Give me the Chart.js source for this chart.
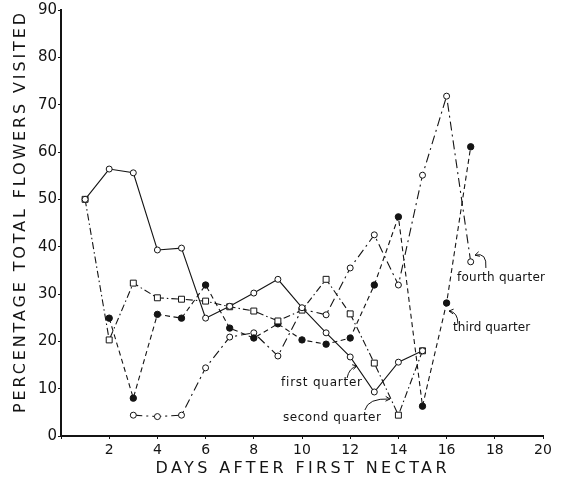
<!DOCTYPE html>
<html>
<head>
<meta charset="utf-8">
<script src="https://cdn.jsdelivr.net/npm/chart.js@4.4.1/dist/chart.umd.min.js"></script>
<style>
  html, body { margin: 0; padding: 0; background: #fff; }
  #wrap { width: 565px; height: 477px; }
</style>
</head>
<body>
<div id="wrap"><canvas id="c" width="565" height="477"></canvas></div>
<script>
// ---- data ----
const firstDays  = [1, 2, 3, 4, 5, 6, 7, 8, 9, 10, 11, 12, 13, 14, 15];
const firstVals  = [50, 56.4, 55.6, 39.3, 39.7, 24.9, 27.4, 30.2, 33.1, 27.1, 21.8, 16.7, 9.3, 15.6, 18];

const secondDays = [1, 2, 3, 4, 5, 6, 7, 8, 9, 10, 11, 12, 13, 14, 15];
const secondVals = [50, 20.3, 32.3, 29.2, 28.9, 28.5, 27.3, 26.4, 24.3, 26.6, 33.1, 25.8, 15.4, 4.4, 18];

const thirdDays  = [2, 3, 4, 5, 6, 7, 8, 9, 10, 11, 12, 13, 14, 15, 16, 17];
const thirdVals  = [24.9, 8, 25.7, 24.9, 31.9, 22.8, 20.7, 23.7, 20.3, 19.4, 20.7, 31.9, 46.3, 6.3, 28.1, 61.1];

const fourthDays = [3, 4, 5, 6, 7, 8, 9, 10, 11, 12, 13, 14, 15, 16, 17];
const fourthVals = [4.4, 4.1, 4.4, 14.4, 20.9, 21.8, 16.9, 26.8, 25.6, 35.5, 42.5, 31.9, 55.1, 71.8, 36.8];

const xTickValues = [2, 4, 6, 8, 10, 12, 14, 16, 18, 20];
const yTickValues = [0, 10, 20, 30, 40, 50, 60, 70, 80, 90];

const seriesNames = ['first quarter', 'second quarter', 'third quarter', 'fourth quarter'];
const xTitle = 'DAYS AFTER FIRST NECTAR';
const yTitle = 'PERCENTAGE TOTAL FLOWERS VISITED';

// ---- helpers ----
const pts = (xs, ys) => xs.map((x, i) => ({ x: x, y: ys[i] }));
const INK = '#141414';

function drawSpaced(ctx, text, cx, cy, target, font, rot) {
  ctx.save();
  ctx.font = font;
  ctx.letterSpacing = '0px';
  const w0 = ctx.measureText(text).width;
  const sp = Math.max(0, (target - w0) / (text.length - 1));
  ctx.letterSpacing = sp + 'px';
  ctx.translate(cx, cy);
  if (rot) ctx.rotate(rot);
  ctx.textAlign = 'left';
  ctx.textBaseline = 'middle';
  ctx.fillText(text, -target / 2, 0);
  ctx.restore();
}

function drawLabelLeft(ctx, text, x, y, target, font) {
  drawSpaced(ctx, text, x + target / 2, y, target, font, 0);
}

function curvedArrow(ctx, p0, p1, p2) {
  ctx.beginPath();
  ctx.moveTo(p0[0], p0[1]);
  ctx.quadraticCurveTo(p1[0], p1[1], p2[0], p2[1]);
  ctx.stroke();
  const ang = Math.atan2(p2[1] - p1[1], p2[0] - p1[0]);
  const L = 5, A = 0.5;
  ctx.beginPath();
  ctx.moveTo(p2[0] - L * Math.cos(ang - A), p2[1] - L * Math.sin(ang - A));
  ctx.lineTo(p2[0], p2[1]);
  ctx.lineTo(p2[0] - L * Math.cos(ang + A), p2[1] - L * Math.sin(ang + A));
  ctx.stroke();
}

// annotation anchors in data coordinates: label left/centre, arrow start/control/end
const annotations = [
  { text: seriesNames[3], at: [16.43, 33.4], w: 88, arrow: [[17.63, 35.5], [17.68, 38.9], [17.18, 38.2]] },
  { text: seriesNames[2], at: [16.27, 22.8], w: 77, arrow: [[16.47, 23.7], [16.47, 26.2], [16.10, 26.4]] },
  { text: seriesNames[0], at: [9.13, 11.2],  w: 81, arrow: [[11.87, 12.25], [11.95, 14.37], [12.28, 14.79]] },
  { text: seriesNames[1], at: [9.21, 3.8],   w: 98, arrow: [[12.61, 5.49], [12.74, 8.03], [13.65, 7.82]] }
];

const annotPlugin = {
  id: 'annot',
  afterDraw(chart) {
    const ctx = chart.ctx, xs = chart.scales.x, ys = chart.scales.y, a = chart.chartArea;
    ctx.save();
    ctx.fillStyle = INK;
    ctx.strokeStyle = INK;
    ctx.lineWidth = 1;
    // axis titles
    drawSpaced(ctx, yTitle, 21, 213, 400, '16px "DejaVu Sans"', -Math.PI / 2);
    drawSpaced(ctx, xTitle, 301, 469, 291, '16px "DejaVu Sans"', 0);
    // series labels with arrows
    const P = (d) => [xs.getPixelForValue(d[0]), ys.getPixelForValue(d[1])];
    annotations.forEach(an => {
      const p = P(an.at);
      drawLabelLeft(ctx, an.text, p[0], p[1], an.w, '12px "DejaVu Sans"');
      const q = an.arrow.map(P);
      curvedArrow(ctx, q[0], q[1], q[2]);
    });
    ctx.restore();
  }
};

const common = {
  borderColor: INK,
  borderWidth: 1.1,
  pointBorderColor: INK,
  pointBorderWidth: 1,
  tension: 0,
  fill: false
};

new Chart(document.getElementById('c'), {
  type: 'line',
  data: {
    datasets: [
      Object.assign({}, common, {
        label: seriesNames[0], data: pts(firstDays, firstVals),
        borderDash: [], pointStyle: 'circle', pointRadius: 3, pointBackgroundColor: '#fff'
      }),
      Object.assign({}, common, {
        label: seriesNames[1], data: pts(secondDays, secondVals),
        borderDash: [7, 3, 1.5, 3], pointStyle: 'rect', pointRadius: 4.2, pointBackgroundColor: '#fff'
      }),
      Object.assign({}, common, {
        label: seriesNames[2], data: pts(thirdDays, thirdVals),
        borderDash: [5, 3.5], pointStyle: 'circle', pointRadius: 3.2, pointBackgroundColor: INK
      }),
      Object.assign({}, common, {
        label: seriesNames[3], data: pts(fourthDays, fourthVals),
        borderDash: [9, 4, 2, 4], pointStyle: 'circle', pointRadius: 3, pointBackgroundColor: '#fff'
      })
    ]
  },
  options: {
    responsive: false,
    animation: false,
    layout: { padding: { top: 10, right: 22, bottom: 0, left: 0 } },
    plugins: { legend: { display: false }, tooltip: { enabled: false }, title: { display: false } },
    scales: {
      x: {
        type: 'linear', min: 0, max: 20,
        afterFit: (s) => { s.height = 41; },
        afterBuildTicks: (s) => { s.ticks = [0].concat(xTickValues).map(v => ({ value: v })); },
        ticks: {
          color: INK, font: { family: 'DejaVu Sans', size: 14 }, padding: 3, maxRotation: 0, autoSkip: false,
          callback: (v) => (xTickValues.includes(v) ? String(v) : '')
        },
        grid: { drawOnChartArea: false, tickLength: 3, color: INK, lineWidth: 1 },
        border: { display: true, color: INK, width: 2 }
      },
      y: {
        type: 'linear', min: 0, max: 90,
        afterFit: (s) => { s.width = 61; },
        afterBuildTicks: (s) => { s.ticks = yTickValues.map(v => ({ value: v })); },
        ticks: { color: INK, font: { family: 'DejaVu Sans', size: 15 }, padding: 1, autoSkip: false },
        grid: { drawOnChartArea: false, tickLength: 3, color: INK, lineWidth: 1 },
        border: { display: true, color: INK, width: 2 }
      }
    }
  },
  plugins: [annotPlugin]
});
</script>
</body>
</html>
